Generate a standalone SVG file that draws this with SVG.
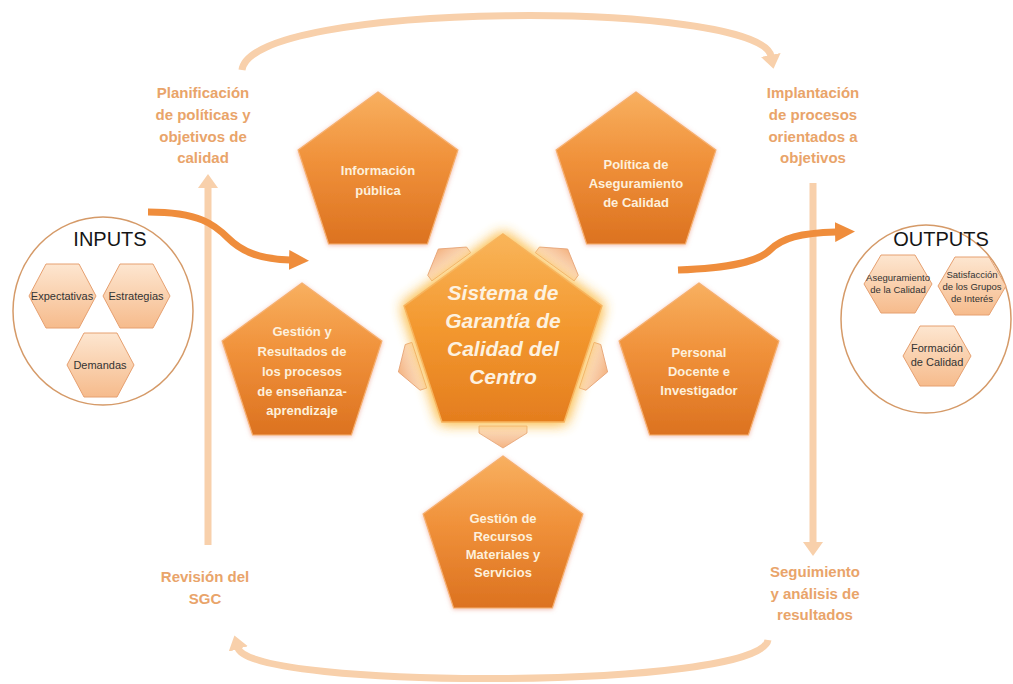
<svg xmlns="http://www.w3.org/2000/svg" width="1013" height="684" viewBox="0 0 1013 684">
<style>
.lbl{font-family:"Liberation Sans",Arial,sans-serif;font-weight:bold;font-size:15px;fill:#e9a46a;text-anchor:middle}
.pt{font-family:"Liberation Sans",Arial,sans-serif;font-weight:bold;font-size:13px;fill:#fdf0dc;text-anchor:middle}
.ct{font-family:"Liberation Sans",Arial,sans-serif;font-weight:bold;font-style:italic;font-size:21px;fill:#fdf2e0;text-anchor:middle}
.io{font-family:"Liberation Sans",Arial,sans-serif;font-size:20px;fill:#151515;text-anchor:middle}
.ht{font-family:"Liberation Sans",Arial,sans-serif;font-size:11px;fill:#333;text-anchor:middle}
.hs{font-family:"Liberation Sans",Arial,sans-serif;font-size:9.5px;fill:#333;text-anchor:middle}
.pent{fill:url(#gPent);stroke:#f6b070;stroke-width:1.2;filter:url(#shadow)}
.hex{fill:url(#gHex);stroke:#e6a070;stroke-width:1}
.con{fill:url(#gCon);stroke:#e5a275;stroke-width:0.8}
.cyc{fill:none;stroke:#f8d0ab;stroke-width:7}
.oarr{fill:none;stroke:#ef8d3c;stroke-width:7}
.ring{fill:#fff;stroke:#d59a68;stroke-width:1.5}
</style>
<defs>
<linearGradient id="gPent" x1="0" y1="0" x2="0" y2="1">
<stop offset="0" stop-color="#f8b060"/>
<stop offset="0.45" stop-color="#f0913a"/>
<stop offset="1" stop-color="#dc7220"/>
</linearGradient>
<linearGradient id="gCen" x1="0" y1="0" x2="0" y2="1">
<stop offset="0" stop-color="#f9b55a"/>
<stop offset="0.5" stop-color="#f3982f"/>
<stop offset="1" stop-color="#e47d1e"/>
</linearGradient>
<linearGradient id="gHex" x1="0" y1="0" x2="0" y2="1">
<stop offset="0" stop-color="#fde6d0"/>
<stop offset="1" stop-color="#f6bb8c"/>
</linearGradient>
<linearGradient id="gCon" x1="0" y1="0" x2="0" y2="1">
<stop offset="0" stop-color="#fde4cf"/>
<stop offset="1" stop-color="#f4b482"/>
</linearGradient>
<filter id="shadow" x="-20%" y="-20%" width="140%" height="140%">
<feDropShadow dx="0" dy="1" stdDeviation="2" flood-color="#e57a60" flood-opacity="0.5"/>
</filter>
<filter id="glow" x="-30%" y="-30%" width="160%" height="160%">
<feGaussianBlur in="SourceAlpha" stdDeviation="7" result="b"/>
<feFlood flood-color="#fbc155" flood-opacity="0.95"/>
<feComposite in2="b" operator="in" result="g"/>
<feMerge><feMergeNode in="g"/><feMergeNode in="g"/><feMergeNode in="SourceGraphic"/></feMerge>
</filter>
<marker id="mCyc" viewBox="0 0 14 20" refX="1" refY="10" markerWidth="14" markerHeight="20" markerUnits="userSpaceOnUse" orient="auto">
<path d="M0,0 L14,10 L0,20 z" fill="#f8d0ab"/>
</marker>
<marker id="mOr" viewBox="0 0 20 20" refX="1" refY="10" markerWidth="20" markerHeight="20" markerUnits="userSpaceOnUse" orient="auto">
<path d="M0,0 L20,10 L0,20 z" fill="#ef8d3c"/>
</marker>
</defs>
<rect width="1013" height="684" fill="#fff"/>

<g id="connectors">
<path class="cyc" d="M242,70 C250,0 760,0 771,56" marker-end="url(#mCyc)"/>
<path class="cyc" d="M813,183 L813,543" marker-end="url(#mCyc)"/>
<path class="cyc" d="M768,640 C760,690 250,690 238,648" marker-end="url(#mCyc)"/>
<path class="cyc" d="M208,545 L208,187" marker-end="url(#mCyc)"/>
<path class="oarr" d="M148,212 C200,212 215,225 228,238 C242,252 260,259 290,260" marker-end="url(#mOr)"/>
<path class="oarr" d="M678,270 C730,268 758,262 770,250 C782,238 800,233 836,232" marker-end="url(#mOr)"/>
</g>

<g id="cycle-labels">
<text class="lbl" x="203" y="98">Planificación</text>
<text class="lbl" x="203" y="120">de políticas y</text>
<text class="lbl" x="203" y="142">objetivos de</text>
<text class="lbl" x="203" y="163">calidad</text>
<text class="lbl" x="813" y="98">Implantación</text>
<text class="lbl" x="813" y="120">de procesos</text>
<text class="lbl" x="813" y="142">orientados a</text>
<text class="lbl" x="813" y="163">objetivos</text>
<text class="lbl" x="205" y="582">Revisión del</text>
<text class="lbl" x="205" y="604">SGC</text>
<text class="lbl" x="815" y="577">Seguimiento</text>
<text class="lbl" x="815" y="599">y análisis de</text>
<text class="lbl" x="815" y="620">resultados</text>
</g>

<g id="inputs">
<ellipse class="ring" cx="103" cy="311" rx="90" ry="94"/>
<text class="io" x="110" y="246">INPUTS</text>
<polygon class="hex" points="29,296 46,264 79,264 96,296 79,328 46,328"/>
<text class="ht" x="62" y="300">Expectativas</text>
<polygon class="hex" points="103,296 120,264 153,264 170,296 153,328 120,328"/>
<text class="ht" x="136" y="300">Estrategias</text>
<polygon class="hex" points="67,365 84,333 117,333 134,365 117,397 84,397"/>
<text class="ht" x="100" y="369">Demandas</text>
</g>

<g id="outputs">
<ellipse class="ring" cx="926" cy="319" rx="85" ry="94"/>
<text class="io" x="941" y="246">OUTPUTS</text>
<polygon class="hex" points="864,284 881,255 915,255 932,284 915,313 881,313"/>
<text class="hs" x="898" y="281">Aseguramiento</text>
<text class="hs" x="898" y="293">de la Calidad</text>
<polygon class="hex" points="938,286 955,257 989,257 1006,286 989,315 955,315"/>
<text class="hs" x="972" y="278">Satisfacción</text>
<text class="hs" x="972" y="290">de los Grupos</text>
<text class="hs" x="972" y="302">de Interés</text>
<polygon class="hex" points="903,356 920,326 954,326 971,356 954,386 920,386"/>
<text class="ht" x="937" y="352">Formación</text>
<text class="ht" x="937" y="366">de Calidad</text>
</g>

<g id="link-arrows">
<polygon class="con" points="479,426 527,426 527,433 503,448 479,433"/>
<polygon class="con" points="479,426 527,426 527,433 503,448 479,433" transform="rotate(72 503 338)"/>
<polygon class="con" points="479,426 527,426 527,433 503,448 479,433" transform="rotate(-72 503 338)"/>
<polygon class="con" points="479,426 527,426 527,433 503,448 479,433" transform="rotate(144 503 338)"/>
<polygon class="con" points="479,426 527,426 527,433 503,448 479,433" transform="rotate(-144 503 338)"/>
</g>

<g id="node-centro">
<polygon points="503,234 601.9,305.9 564.1,422.1 441.9,422.1 404.1,305.9" fill="url(#gCen)" stroke="#f7b45e" stroke-width="1.5" filter="url(#glow)"/>
<text class="ct" x="503" y="300">Sistema de</text>
<text class="ct" x="503" y="328">Garantía de</text>
<text class="ct" x="503" y="356">Calidad del</text>
<text class="ct" x="503" y="384">Centro</text>
</g>

<g id="node-informacion">
<polygon class="pent" points="378,92 457.9,150 427.4,244 328.6,244 298.1,150"/>
<text class="pt" x="378" y="175">Información</text>
<text class="pt" x="378" y="195">pública</text>
</g>

<g id="node-politica">
<polygon class="pent" points="636,92 715.9,150 685.4,244 586.6,244 556.1,150"/>
<text class="pt" x="636" y="169">Política de</text>
<text class="pt" x="636" y="188">Aseguramiento</text>
<text class="pt" x="636" y="207">de Calidad</text>
</g>

<g id="node-gestion-ensenanza">
<polygon class="pent" points="302,283 381.9,341 351.4,435 252.6,435 222.1,341"/>
<text class="pt" x="302" y="336">Gestión y</text>
<text class="pt" x="302" y="356">Resultados de</text>
<text class="pt" x="302" y="376">los procesos</text>
<text class="pt" x="302" y="396">de enseñanza-</text>
<text class="pt" x="302" y="415">aprendizaje</text>
</g>

<g id="node-personal">
<polygon class="pent" points="699,283 778.9,341 748.4,435 649.6,435 619.1,341"/>
<text class="pt" x="699" y="357">Personal</text>
<text class="pt" x="699" y="376">Docente e</text>
<text class="pt" x="699" y="395">Investigador</text>
</g>

<g id="node-recursos">
<polygon class="pent" points="503,456 582.9,514 552.4,608 453.6,608 423.1,514"/>
<text class="pt" x="503" y="523">Gestión de</text>
<text class="pt" x="503" y="541">Recursos</text>
<text class="pt" x="503" y="559">Materiales y</text>
<text class="pt" x="503" y="577">Servicios</text>
</g>
</svg>
